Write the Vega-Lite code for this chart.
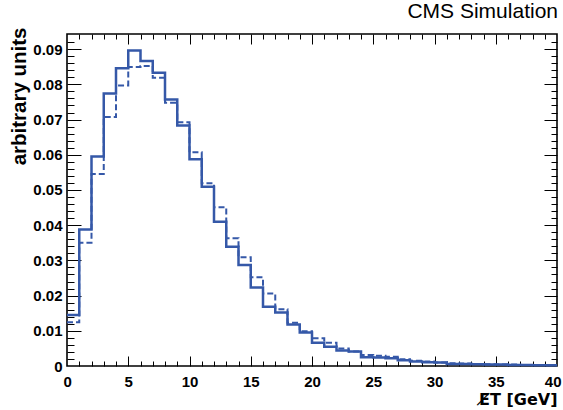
{
  "$schema": "https://vega.github.io/schema/vega-lite/v6.json",
  "autosize": {"type": "none"},
  "padding": {"left": 67, "top": 34, "right": 6, "bottom": 44},
  "width": 490,
  "height": 332,
  "background": "white",
  "config": {
    "view": {"stroke": "#000000", "strokeWidth": 1.6},
    "font": "Liberation Sans",
    "axis": {"grid": false, "domain": false, "tickColor": "#000000", "tickWidth": 1, "labelFont": "Liberation Sans", "labelFontWeight": "bold", "labelFontSize": 15, "labelColor": "#000000", "titleFont": "Liberation Sans", "titleFontWeight": "bold", "titleColor": "#000000", "labelOverlap": false, "labelFlush": false, "labelBound": false}
  },
  "title": {"text": "CMS Simulation", "anchor": "end", "orient": "top", "offset": 5, "font": "Liberation Sans", "fontSize": 21, "fontWeight": "normal", "color": "#000000", "dx": -4},
  "datasets": {
    "hist": [
      {"x": 0, "v": 0.0145, "series": "solid"}, {"x": 1, "v": 0.0388, "series": "solid"}, {"x": 2, "v": 0.0595, "series": "solid"}, {"x": 3, "v": 0.0774, "series": "solid"}, {"x": 4, "v": 0.0846, "series": "solid"}, {"x": 5, "v": 0.0896, "series": "solid"}, {"x": 6, "v": 0.0866, "series": "solid"}, {"x": 7, "v": 0.0833, "series": "solid"}, {"x": 8, "v": 0.0757, "series": "solid"}, {"x": 9, "v": 0.0683, "series": "solid"}, {"x": 10, "v": 0.0587, "series": "solid"}, {"x": 11, "v": 0.0509, "series": "solid"}, {"x": 12, "v": 0.041, "series": "solid"}, {"x": 13, "v": 0.0339, "series": "solid"}, {"x": 14, "v": 0.0287, "series": "solid"}, {"x": 15, "v": 0.0223, "series": "solid"}, {"x": 16, "v": 0.0168, "series": "solid"}, {"x": 17, "v": 0.0152, "series": "solid"}, {"x": 18, "v": 0.0118, "series": "solid"}, {"x": 19, "v": 0.0095, "series": "solid"}, {"x": 20, "v": 0.0066, "series": "solid"}, {"x": 21, "v": 0.0055, "series": "solid"}, {"x": 22, "v": 0.0044, "series": "solid"}, {"x": 23, "v": 0.0041, "series": "solid"}, {"x": 24, "v": 0.0025, "series": "solid"}, {"x": 25, "v": 0.0024, "series": "solid"}, {"x": 26, "v": 0.0022, "series": "solid"}, {"x": 27, "v": 0.0016, "series": "solid"}, {"x": 28, "v": 0.0013, "series": "solid"}, {"x": 29, "v": 0.0011, "series": "solid"}, {"x": 30, "v": 0.001, "series": "solid"}, {"x": 31, "v": 0.0006, "series": "solid"}, {"x": 32, "v": 0.0006, "series": "solid"}, {"x": 33, "v": 0.0005, "series": "solid"}, {"x": 34, "v": 0.0004, "series": "solid"}, {"x": 35, "v": 0.0004, "series": "solid"}, {"x": 36, "v": 0.0003, "series": "solid"}, {"x": 37, "v": 0.0003, "series": "solid"}, {"x": 38, "v": 0.0002, "series": "solid"}, {"x": 39, "v": 0.0002, "series": "solid"}, {"x": 40, "v": 0.0002, "series": "solid"},
      {"x": 0, "v": 0.0124, "series": "dashed"}, {"x": 1, "v": 0.035, "series": "dashed"}, {"x": 2, "v": 0.0545, "series": "dashed"}, {"x": 3, "v": 0.0707, "series": "dashed"}, {"x": 4, "v": 0.0797, "series": "dashed"}, {"x": 5, "v": 0.0849, "series": "dashed"}, {"x": 6, "v": 0.0852, "series": "dashed"}, {"x": 7, "v": 0.0819, "series": "dashed"}, {"x": 8, "v": 0.0748, "series": "dashed"}, {"x": 9, "v": 0.0692, "series": "dashed"}, {"x": 10, "v": 0.0607, "series": "dashed"}, {"x": 11, "v": 0.0519, "series": "dashed"}, {"x": 12, "v": 0.0451, "series": "dashed"}, {"x": 13, "v": 0.0363, "series": "dashed"}, {"x": 14, "v": 0.0309, "series": "dashed"}, {"x": 15, "v": 0.0252, "series": "dashed"}, {"x": 16, "v": 0.0206, "series": "dashed"}, {"x": 17, "v": 0.0161, "series": "dashed"}, {"x": 18, "v": 0.0123, "series": "dashed"}, {"x": 19, "v": 0.0099, "series": "dashed"}, {"x": 20, "v": 0.0079, "series": "dashed"}, {"x": 21, "v": 0.0066, "series": "dashed"}, {"x": 22, "v": 0.005, "series": "dashed"}, {"x": 23, "v": 0.0041, "series": "dashed"}, {"x": 24, "v": 0.0031, "series": "dashed"}, {"x": 25, "v": 0.0029, "series": "dashed"}, {"x": 26, "v": 0.0026, "series": "dashed"}, {"x": 27, "v": 0.0019, "series": "dashed"}, {"x": 28, "v": 0.0015, "series": "dashed"}, {"x": 29, "v": 0.0013, "series": "dashed"}, {"x": 30, "v": 0.001, "series": "dashed"}, {"x": 31, "v": 0.0008, "series": "dashed"}, {"x": 32, "v": 0.0007, "series": "dashed"}, {"x": 33, "v": 0.0006, "series": "dashed"}, {"x": 34, "v": 0.0005, "series": "dashed"}, {"x": 35, "v": 0.0004, "series": "dashed"}, {"x": 36, "v": 0.0004, "series": "dashed"}, {"x": 37, "v": 0.0003, "series": "dashed"}, {"x": 38, "v": 0.0003, "series": "dashed"}, {"x": 39, "v": 0.0002, "series": "dashed"}, {"x": 40, "v": 0.0002, "series": "dashed"}
    ]
  },
  "data": {"name": "hist"},
  "resolve": {"axis": {"x": "independent", "y": "independent"}},
  "layer": [
    {
      "transform": [{"filter": "datum.series === 'solid'"}],
      "mark": {"type": "line", "interpolate": "step-after", "opacity": 0},
      "encoding": {
        "x": {"field": "x", "type": "quantitative", "scale": {"domain": [0, 40], "nice": false, "zero": false},
          "axis": {"orient": "bottom", "labels": false, "title": null, "tickSize": -5, "values": [1,2,3,4,6,7,8,9,11,12,13,14,16,17,18,19,21,22,23,24,26,27,28,29,31,32,33,34,36,37,38,39]}},
        "y": {"field": "v", "type": "quantitative", "scale": {"domain": [0, 0.0943], "nice": false},
          "axis": {"orient": "left", "labels": false, "title": null, "tickSize": -7, "values": [0.002,0.004,0.006,0.008,0.012,0.014,0.016,0.018,0.022,0.024,0.026,0.028,0.032,0.034,0.036,0.038,0.042,0.044,0.046,0.048,0.052,0.054,0.056,0.058,0.062,0.064,0.066,0.068,0.072,0.074,0.076,0.078,0.082,0.084,0.086,0.088,0.092]}}
      }
    },
    {
      "transform": [{"filter": "datum.series === 'solid'"}],
      "mark": {"type": "line", "interpolate": "step-after", "opacity": 0},
      "encoding": {
        "x": {"field": "x", "type": "quantitative", "scale": {"domain": [0, 40], "nice": false, "zero": false},
          "axis": {"orient": "top", "labels": false, "title": null, "tickSize": -5, "values": [1,2,3,4,6,7,8,9,11,12,13,14,16,17,18,19,21,22,23,24,26,27,28,29,31,32,33,34,36,37,38,39]}},
        "y": {"field": "v", "type": "quantitative", "scale": {"domain": [0, 0.0943], "nice": false},
          "axis": {"orient": "right", "labels": false, "title": null, "tickSize": -6, "values": [0.002,0.004,0.006,0.008,0.012,0.014,0.016,0.018,0.022,0.024,0.026,0.028,0.032,0.034,0.036,0.038,0.042,0.044,0.046,0.048,0.052,0.054,0.056,0.058,0.062,0.064,0.066,0.068,0.072,0.074,0.076,0.078,0.082,0.084,0.086,0.088,0.092]}}
      }
    },
    {
      "transform": [{"filter": "datum.series === 'solid'"}],
      "mark": {"type": "line", "interpolate": "step-after", "opacity": 0},
      "encoding": {
        "x": {"field": "x", "type": "quantitative", "scale": {"domain": [0, 40], "nice": false, "zero": false},
          "axis": {"orient": "top", "labels": false, "title": null, "tickSize": -10, "values": [5,10,15,20,25,30,35]}},
        "y": {"field": "v", "type": "quantitative", "scale": {"domain": [0, 0.0943], "nice": false},
          "axis": {"orient": "right", "labels": false, "title": null, "tickSize": -13, "values": [0.01,0.02,0.03,0.04,0.05,0.06,0.07,0.08,0.09]}}
      }
    },
    {
      "transform": [{"filter": "datum.series === 'dashed'"}],
      "mark": {"type": "line", "interpolate": "step-after", "color": "#3558a8", "strokeWidth": 2, "strokeDash": [6, 3]},
      "encoding": {
        "x": {"field": "x", "type": "quantitative", "scale": {"domain": [0, 40], "nice": false, "zero": false},
          "axis": {"orient": "bottom", "labels": false, "title": null, "tickSize": -10, "values": [5,10,15,20,25,30,35]}},
        "y": {"field": "v", "type": "quantitative", "scale": {"domain": [0, 0.0943], "nice": false},
          "axis": {"orient": "left", "labels": false, "title": null, "tickSize": -14, "values": [0.01,0.02,0.03,0.04,0.05,0.06,0.07,0.08,0.09]}}
      }
    },
    {
      "transform": [{"filter": "datum.series === 'solid'"}],
      "mark": {"type": "line", "interpolate": "step-after", "color": "#3558a8", "strokeWidth": 2.5},
      "encoding": {
        "x": {"field": "x", "type": "quantitative", "scale": {"domain": [0, 40], "nice": false, "zero": false},
          "axis": {"orient": "bottom", "ticks": false, "title": "E̸T  [GeV]", "titleFont": "DejaVu Sans", "titleFontSize": 16, "titleAnchor": "end", "titlePadding": 2, "labelPadding": 8,
            "labelFlush": true, "labelFlushOffset": 4,
            "values": [0,5,10,15,20,25,30,35,40]}},
        "y": {"field": "v", "type": "quantitative", "scale": {"domain": [0, 0.0943], "nice": false},
          "axis": {"orient": "left", "ticks": false, "title": "arbitrary units", "titleFontSize": 20.5, "titleAnchor": "end", "titleY": -7, "titlePadding": 3, "labelPadding": 5,
            "values": [0,0.01,0.02,0.03,0.04,0.05,0.06,0.07,0.08,0.09],
            "labelExpr": "datum.value === 0 ? '0' : format(datum.value, '.2f')"}}
      }
    }
  ]
}
